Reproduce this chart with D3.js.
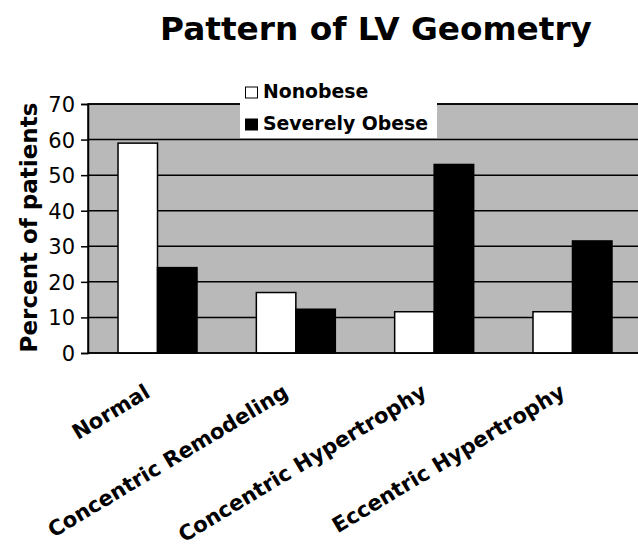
<!DOCTYPE html>
<html>
<head>
<meta charset="utf-8">
<script src="https://cdn.jsdelivr.net/npm/d3@7"></script>
<style>
  body { margin: 0; background: #fff; }
  svg { display: block; font-family: "DejaVu Sans", Verdana, sans-serif; }
</style>
</head>
<body>
<div id="chart"></div>
<script>
// chart data
var categories = ["Normal", "Concentric Remodeling", "Concentric Hypertrophy", "Eccentric Hypertrophy"];
var seriesNames = ["Nonobese", "Severely Obese"];
var nonobese = [59, 17, 11.6, 11.6];
var severelyObese = [24, 12.3, 53, 31.5];
var yTicks = [0, 10, 20, 30, 40, 50, 60, 70];

var width = 638, height = 548;
var plotLeft = 88, plotTop = 104, plotBottom = 353, plotRight = 642;

var svg = d3.select("#chart").append("svg")
    .attr("width", width)
    .attr("height", height);

var y = d3.scaleLinear().domain([0, 70]).range([plotBottom, plotTop]);

var x0 = d3.scaleBand()
    .domain(categories)
    .range([plotLeft, plotRight])
    .paddingInner(0.429)
    .paddingOuter(0.217);

var x1 = d3.scaleBand()
    .domain(seriesNames)
    .range([0, x0.bandwidth()]);

var fills = { "Nonobese": "#fff", "Severely Obese": "#000" };

// shrink/grow a font so a text hits a measured length
var fitText = function (sel, target) {
    var base = parseFloat(sel.style("font-size"));
    var len = sel.node().getComputedTextLength();
    sel.style("font-size", (base * target / len).toFixed(2) + "px");
    return base * target / len;
};

// plot background
svg.append("rect")
    .attr("x", plotLeft)
    .attr("y", plotTop)
    .attr("width", plotRight - plotLeft)
    .attr("height", plotBottom - plotTop)
    .attr("fill", "#b9b9b9")
    .attr("stroke", "#000")
    .attr("stroke-width", 1.5);

// gridlines
svg.append("g")
    .selectAll("line")
    .data(yTicks.filter(function (d) { return d > 0; }))
    .enter().append("line")
    .attr("x1", plotLeft)
    .attr("x2", plotRight)
    .attr("y1", function (d) { return y(d); })
    .attr("y2", function (d) { return y(d); })
    .attr("stroke", "#000")
    .attr("stroke-width", 1.5);

// bars
var rows = categories.map(function (c, i) {
    return { cat: c, values: [
        { name: seriesNames[0], value: nonobese[i] },
        { name: seriesNames[1], value: severelyObese[i] }
    ] };
});

var groups = svg.append("g")
    .selectAll("g")
    .data(rows)
    .enter().append("g")
    .attr("transform", function (d) { return "translate(" + x0(d.cat) + ",0)"; });

groups.selectAll("rect")
    .data(function (d) { return d.values; })
    .enter().append("rect")
    .attr("x", function (d) { return x1(d.name); })
    .attr("y", function (d) { return y(d.value); })
    .attr("width", x1.bandwidth())
    .attr("height", function (d) { return plotBottom - y(d.value); })
    .attr("fill", function (d) { return fills[d.name]; })
    .attr("stroke", "#000")
    .attr("stroke-width", 1.5);

// y axis
var yAxis = svg.append("g")
    .attr("transform", "translate(" + plotLeft + ",0)")
    .call(d3.axisLeft(y).tickValues(yTicks).tickSize(7).tickPadding(6));
yAxis.select(".domain").attr("stroke-width", 1.5);
yAxis.selectAll(".tick line").attr("stroke-width", 1.5);
yAxis.selectAll("text")
    .style("font-family", "DejaVu Sans, Verdana, sans-serif")
    .style("font-size", "21px")
    .attr("dy", "0.36em")
    .attr("fill", "#000");

// x axis line
svg.append("line")
    .attr("x1", plotLeft).attr("x2", plotRight)
    .attr("y1", plotBottom).attr("y2", plotBottom)
    .attr("stroke", "#000")
    .attr("stroke-width", 1.5);

// y title
var yTitle = svg.append("text")
    .attr("transform", "translate(37," + ((plotTop + plotBottom) / 2 - 1) + ") rotate(-90)")
    .attr("text-anchor", "middle")
    .style("font-weight", "bold")
    .style("font-size", "20px")
    .text("Percent of patients");
fitText(yTitle, 250);

// x labels
var xLabels = svg.append("g")
    .selectAll("text")
    .data(categories)
    .enter().append("text")
    .attr("text-anchor", "end")
    .attr("transform", function (d) {
        return "translate(" + (x0(d) + x0.bandwidth() / 2 - 6) + ",396) rotate(-31)";
    })
    .style("font-weight", "bold")
    .style("font-size", "19px")
    .text(function (d) { return d; });
var labelSize = fitText(xLabels.filter(function (d) { return d === "Concentric Remodeling"; }), 276);
xLabels.style("font-size", labelSize.toFixed(2) + "px");

// title
var title = svg.append("text")
    .attr("x", 376)
    .attr("y", 40)
    .attr("text-anchor", "middle")
    .style("font-weight", "bold")
    .style("font-size", "34px")
    .text("Pattern of LV Geometry");
fitText(title, 432);

// legend
var legend = svg.append("g");
legend.append("rect")
    .attr("x", 240).attr("y", 76)
    .attr("width", 197).attr("height", 62)
    .attr("fill", "#fff");

var entries = legend.selectAll("g")
    .data(seriesNames)
    .enter().append("g")
    .attr("transform", function (d, i) { return "translate(245," + (98 + i * 32) + ")"; });
entries.append("rect")
    .attr("x", 0.5).attr("y", -11)
    .attr("width", 12).attr("height", 11)
    .attr("fill", function (d) { return fills[d]; })
    .attr("stroke", "#000")
    .attr("stroke-width", 1);
var legendText = entries.append("text")
    .attr("x", 18)
    .attr("y", 0)
    .style("font-weight", "bold")
    .style("font-size", "18px")
    .text(function (d) { return d; });
var lsize = fitText(legendText.filter(function (d) { return d === "Severely Obese"; }), 165);
legendText.style("font-size", lsize.toFixed(2) + "px");
</script>
</body>
</html>
